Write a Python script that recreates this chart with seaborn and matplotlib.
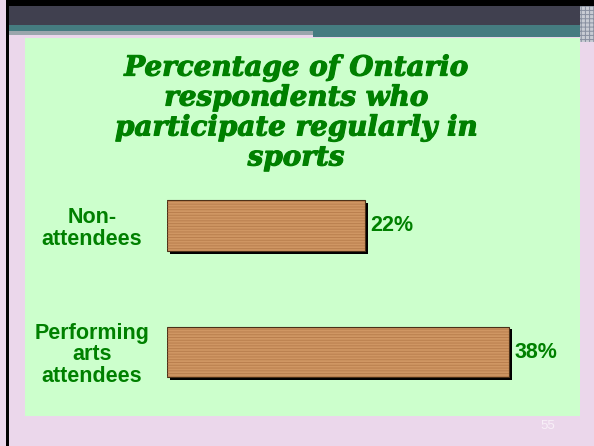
import matplotlib
matplotlib.use('Agg')
import matplotlib.pyplot as plt
import seaborn as sns
import pandas as pd
from matplotlib.patches import Rectangle
import matplotlib.patheffects as pe

# ---- data ----
categories = ["Non-\nattendees", "Performing\narts\nattendees"]
values = [22, 38]
value_labels = ["22%", "38%"]
title = "Percentage of Ontario\nrespondents who\nparticipate regularly in\nsports"
page_number = "55"

sns.set_theme(style="white")
plt.rcParams['font.family'] = ['Liberation Sans', 'DejaVu Sans']
plt.rcParams['hatch.linewidth'] = 0.7

W, H = 594, 446
fig = plt.figure(figsize=(W / 100, H / 100), dpi=100)
fig.patch.set_facecolor('#EBD7EB')

GREEN = '#008000'


def frect(x0, y0, x1, y1, color, z=-5, **kw):
    r = Rectangle((x0 / W, 1 - y1 / H), (x1 - x0) / W, (y1 - y0) / H,
                  transform=fig.transFigure, facecolor=color,
                  edgecolor='none', zorder=z, **kw)
    fig.add_artist(r)
    return r


# slide decoration
frect(6, 0, W, 6, '#000000')
frect(6, 0, 9, H, '#000000')
frect(9, 6, 580, 25, '#40404F')
frect(9, 25, 580, 31, '#457C80')
frect(9, 31, 313, 35, '#9AA6AC')
frect(313, 31, 580, 37, '#457C80')
g = frect(580, 6, W, 42, '#C8CCD4')
g.set_hatch('++++')
g.set_edgecolor('#8890A0')
g.set_linewidth(0)
frect(25, 38, 580, 416, '#CCFFCC')

# ---- bars ----
ax = fig.add_axes([167 / W, 1 - 415.25 / H, 405 / W, 253 / H])
ax.set_facecolor('none')
df = pd.DataFrame({'category': categories, 'value': values})
sns.barplot(data=df, x='value', y='category', ax=ax, color='#CF9663',
            saturation=1, width=0.40, edgecolor='#4A3018', linewidth=0.8,
            orient='h')
for p in list(ax.patches):
    p.set_path_effects([pe.SimplePatchShadow(offset=(2, -2), shadow_rgbFace='black', alpha=1.0),
                        pe.Normal()])
    ov = Rectangle(p.get_xy(), p.get_width(), p.get_height(), facecolor='none',
                   edgecolor=(0.6, 0.36, 0.18, 0.4), linewidth=0, hatch='------',
                   zorder=p.get_zorder() + 0.1)
    ax.add_patch(ov)

ax.set_xlim(0, 45)
ax.set_ylim(1.5, -0.5)
ax.bar_label(ax.containers[0], labels=value_labels, padding=4,
             color=GREEN, fontsize=15.5, fontweight='bold')
ax.set_xlabel('')
ax.set_ylabel('')
ax.set_xticks([])
for s in ax.spines.values():
    s.set_visible(False)
ax.tick_params(axis='y', length=0, pad=54)
for t in ax.get_yticklabels():
    t.set_ha('center')
    t.set_multialignment('center')
    t.set_color(GREEN)
    t.set_fontweight('bold')
    t.set_fontsize(15.5)
    t.set_linespacing(1.05)

# ---- title ----
fig.text(296 / W, 1 - 113 / H, title, ha='center', va='center',
         fontsize=20, fontweight='bold', fontstyle='italic',
         family=['DejaVu Serif'], color=GREEN,
         linespacing=1.14,
         path_effects=[pe.withStroke(linewidth=0.8, foreground=GREEN)])

fig.text(548 / W, 1 - 426 / H, page_number, ha='center', va='center',
         fontsize=9.5, color='#F8F0F8')

fig.savefig('out.png', dpi=100, facecolor=fig.get_facecolor())
